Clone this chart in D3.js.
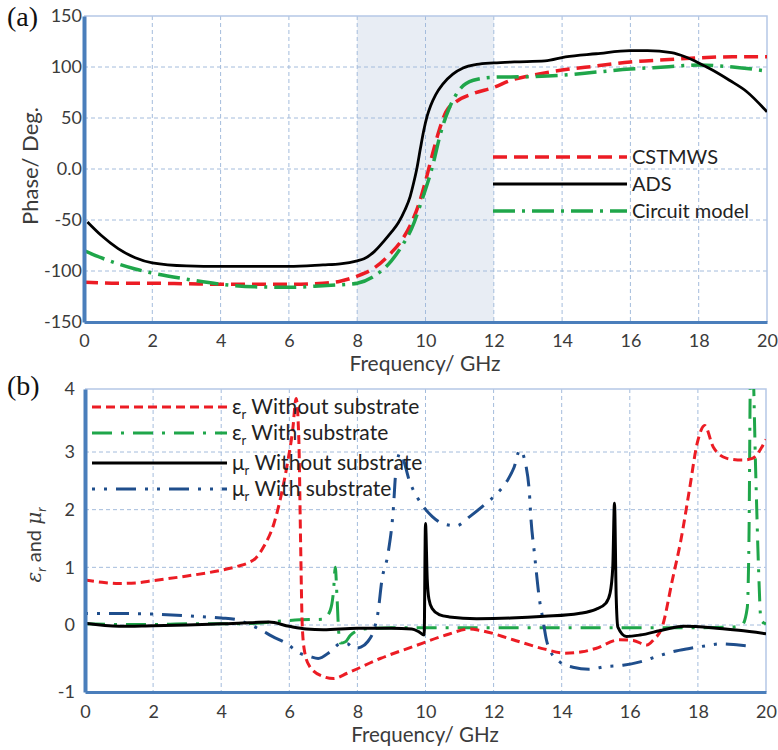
<!DOCTYPE html>
<html>
<head>
<meta charset="utf-8">
<script src="https://cdn.jsdelivr.net/npm/d3@7/dist/d3.min.js"></script>
<style>
  body { margin: 0; background: #fff; }
  svg { display: block; }
  text { font-family: Lato, "Open Sans", sans-serif; }
</style>
</head>
<body>
<svg id="chart" width="778" height="750"></svg>
<script>
// ---------- (a) transmission phase vs frequency ----------
const phaseXTicks = [0, 2, 4, 6, 8, 10, 12, 14, 16, 18, 20];
const phaseYTicks = [-150, -100, -50, 0, 50, 100, 150];
const bandGHz = [8, 12];

const cstFreq  = [0, 1, 2, 3, 4, 5, 6, 7, 7.5, 8, 8.5, 9, 9.3, 9.6, 9.8, 10, 10.2, 10.4, 10.6, 10.9, 11.4, 12, 12.5, 13, 14, 15, 16, 17, 18, 19, 20];
const cstPhase = [-111, -112, -112, -112.5, -113, -113, -113, -112, -110, -105, -97, -82, -70, -52, -35, -12, 14, 38, 56, 66, 74, 80, 87, 91, 97, 101, 105, 107, 109, 110, 110];

const adsFreq  = [0.1, 0.5, 1, 1.5, 2, 3, 4, 5, 6, 7, 7.5, 8, 8.2, 8.5, 8.8, 9.0, 9.2, 9.4, 9.55, 9.65, 9.75, 9.85, 9.95, 10.05, 10.15, 10.3, 10.5, 10.8, 11.1, 11.5, 12, 12.6, 13.5, 14.1, 15, 16, 16.5, 17.2, 17.6, 18, 18.4, 18.9, 19.4, 20];
const adsPhase = [-52, -65, -78, -87, -92, -95, -95.5, -95.5, -95.5, -94, -93, -90, -88, -81, -70, -62, -53, -40, -27, -14, 1, 20, 38, 52, 62, 73, 83, 93, 99, 102.5, 104, 105, 106, 110, 113, 116, 116, 114, 110, 104, 97, 87, 76, 56];

const circuitFreq  = [0, 0.5, 1, 1.5, 2, 3, 4, 5, 6, 7, 7.5, 8, 8.5, 9, 9.3, 9.6, 9.9, 10.2, 10.45, 10.7, 11, 11.4, 12, 13, 14, 15, 16, 17, 18, 19, 20];
const circuitPhase = [-80, -87, -93, -98, -102, -108, -113, -115.5, -116, -114.5, -113.5, -112, -105, -90, -76, -58, -30, 2, 36, 60, 78, 87, 90, 90.5, 92, 95, 98, 100, 102, 100, 96];

const phaseLegend = ["CSTMWS", "ADS", "Circuit model"];

// ---------- (b) retrieved permittivity / permeability ----------
const paramXTicks = [0, 2, 4, 6, 8, 10, 12, 14, 16, 18, 20];
const paramYTicks = [-1, 0, 1, 2, 3, 4];

const epsNoSubFreq = [0, 0.5, 1, 1.5, 2, 3, 4, 4.5, 4.8, 5, 5.25, 5.55, 5.75, 5.95, 6.1, 6.2, 6.28, 6.33, 6.38, 6.45, 6.6, 7, 7.3, 7.7, 8.67, 9.65, 10.6, 11.3, 11.6, 12.57, 13.5, 14.1, 14.6, 15, 15.7, 16.1, 16.5, 16.7, 16.95, 17.25, 17.5, 17.75, 17.98, 18.2, 18.45, 18.85, 19.3, 19.6, 20];
const epsNoSub     = [0.78, 0.74, 0.72, 0.73, 0.77, 0.85, 0.95, 1.02, 1.08, 1.15, 1.36, 1.76, 2.22, 2.82, 3.35, 3.85, 3.2, 1.5, 0, -0.4, -0.62, -0.77, -0.8, -0.72, -0.5, -0.32, -0.15, -0.06, -0.08, -0.22, -0.36, -0.42, -0.4, -0.35, -0.22, -0.23, -0.3, -0.22, -0.03, 0.78, 1.47, 2.34, 3.14, 3.42, 3.08, 2.89, 2.86, 2.89, 3.2];

const epsSubFreq = [0, 1, 2, 3, 4, 5, 5.8, 6.3, 7, 7.2, 7.3, 7.35, 7.4, 7.45, 7.5, 7.65, 7.8, 8.2, 9, 10, 11, 12, 13, 14, 15, 16, 17, 18, 19, 19.3, 19.45, 19.5, 19.55, 19.6, 19.7, 19.78, 19.85, 19.9, 20];
const epsSub     = [0.02, 0.01, 0.01, 0.02, 0.02, 0.03, 0.07, 0.09, 0.1, 0.25, 0.6, 1.0, 0.5, -0.1, -0.27, -0.25, -0.15, -0.06, -0.04, -0.04, -0.04, -0.04, -0.04, -0.04, -0.04, -0.04, -0.04, -0.04, -0.03, 0.0, 0.3, 1.5, 4.5, 4.5, 2.6, 1.0, 0.1, 0.05, 0.02];

const muNoSubFreq = [0, 1, 2, 3, 4, 4.5, 5.4, 6, 6.5, 7, 8, 9, 9.6, 9.8, 9.96, 10.0, 10.05, 10.1, 10.2, 10.4, 10.7, 11.5, 12.5, 13.5, 14.5, 15, 15.3, 15.42, 15.5, 15.55, 15.6, 15.65, 15.9, 16.3, 17, 17.6, 18.4, 19.2, 20];
const muNoSub     = [0.03, -0.02, -0.01, 0, 0.02, 0.03, 0.05, -0.02, -0.06, -0.07, -0.05, -0.05, -0.06, -0.1, -0.15, 1.76, 0.8, 0.45, 0.28, 0.18, 0.14, 0.11, 0.12, 0.15, 0.2, 0.27, 0.38, 0.55, 1.0, 2.11, 0.5, -0.03, -0.17, -0.15, -0.07, -0.02, -0.04, -0.08, -0.13];

const muSubFreq = [0, 1, 2, 3, 4, 4.4, 4.75, 5.15, 5.5, 5.9, 6.3, 6.6, 6.85, 7.2, 7.5, 7.7, 7.9, 8.1, 8.3, 8.5, 8.6, 8.72, 8.9, 9.06, 9.12, 9.25, 9.55, 9.94, 10.2, 10.5, 10.9, 11.3, 11.7, 12.1, 12.4, 12.6, 12.77, 12.96, 13.05, 13.1, 13.2, 13.35, 13.45, 13.55, 13.65, 13.94, 14.33, 14.8, 15.3, 15.8, 16.3, 16.8, 17.25, 17.75, 18.24, 18.7, 19.2, 19.65];
const muSub     = [0.2, 0.2, 0.19, 0.16, 0.12, 0.1, 0.03, -0.07, -0.17, -0.27, -0.42, -0.47, -0.5, -0.4, -0.28, -0.28, -0.35, -0.33, -0.25, -0.05, 0.2, 0.78, 1.24, 2.05, 2.6, 2.98, 2.46, 2.05, 1.88, 1.76, 1.72, 1.88, 2.07, 2.28, 2.5, 2.73, 3.03, 2.73, 2.3, 1.82, 1.24, 0.43, 0.09, -0.22, -0.37, -0.55, -0.63, -0.66, -0.62, -0.6, -0.55, -0.47, -0.4, -0.35, -0.31, -0.28, -0.3, -0.32];

// ---------- styling ----------
const AXIS = "#4a7ebb", BORDER = "#b5c8e6", GRID = "#a4bcdc", INK = "#3b3b3b";
const RED = "#ec1c24", GREEN = "#1fa64a", BLACK = "#000000", NAVY = "#1f4e8c";

const svg = d3.select("#chart");
const zip = (xs, ys) => xs.map((x, i) => [x, ys[i]]);

function panel(g, x, y, xTicks, yTicks, yFmt, opt) {
  const xl = x.range()[0], xr = x.range()[1];
  const yb = y(y.domain()[0]), yt = y(y.domain()[y.domain().length - 1]);

  if (opt.band) {
    g.append("rect")
      .attr("x", x(opt.band[0])).attr("y", yt)
      .attr("width", x(opt.band[1]) - x(opt.band[0])).attr("height", yb - yt)
      .attr("fill", "#e8edf4");
  }
  // dashed grid
  g.append("g").selectAll("line").data(xTicks.slice(1, -1)).join("line")
    .attr("x1", d => x(d)).attr("x2", d => x(d)).attr("y1", yt).attr("y2", yb)
    .attr("stroke", GRID).attr("stroke-width", 1).attr("stroke-dasharray", "4,3");
  g.append("g").selectAll("line").data(yTicks.slice(1, -1)).join("line")
    .attr("x1", xl).attr("x2", xr).attr("y1", d => y(d)).attr("y2", d => y(d))
    .attr("stroke", GRID).attr("stroke-width", 1).attr("stroke-dasharray", "4,3");
  // thin top / right frame
  g.append("path").attr("d", `M${xl},${yt}H${xr}V${yb}`)
    .attr("fill", "none").attr("stroke", BORDER).attr("stroke-width", 1.5);

  const clipId = opt.clip;
  g.append("clipPath").attr("id", clipId).append("rect")
    .attr("x", xl).attr("y", yt).attr("width", xr - xl).attr("height", yb - yt);

  const line = d3.line().x(d => x(d[0])).y(d => y(d[1])).curve(d3.curveMonotoneX);
  const curves = g.append("g").attr("clip-path", `url(#${clipId})`);
  opt.series.forEach(s => {
    curves.append("path").datum(s.data).attr("d", line)
      .attr("fill", "none").attr("stroke", s.color).attr("stroke-width", s.width)
      .attr("stroke-dasharray", s.dash || null).attr("stroke-linejoin", "round");
  });

  // axes
  const ax = g.append("g").attr("transform", `translate(0,${yb})`)
    .call(d3.axisBottom(x).tickValues(xTicks).tickSize(0).tickSizeOuter(0).tickPadding(opt.xPad));
  ax.select(".domain").attr("stroke", AXIS).attr("stroke-width", 3);
  ax.selectAll("text").attr("font-size", 18).attr("fill", INK).style("font-family", "Lato, sans-serif");

  const ay = g.append("g").attr("transform", `translate(${xl},0)`)
    .call(d3.axisLeft(y).tickValues(yTicks).tickFormat(yFmt).tickSize(0).tickSizeOuter(0).tickPadding(opt.yPad));
  ay.select(".domain").attr("stroke", AXIS).attr("stroke-width", 4);
  ay.selectAll("text").attr("font-size", 18).attr("fill", INK).style("font-family", "Lato, sans-serif");

  // legend
  opt.legend.forEach((e, i) => {
    const ly = opt.legendY[i];
    g.append("line").attr("x1", opt.legendX[0]).attr("x2", opt.legendX[1])
      .attr("y1", ly).attr("y2", ly)
      .attr("stroke", e.color).attr("stroke-width", e.width).attr("stroke-dasharray", e.dash || null);
    const t = g.append("text").attr("x", opt.legendX[1] + 5).attr("y", ly).attr("dy", "0.35em")
      .attr("font-size", opt.legendSize).attr("fill", "#222");
    if (e.sym) {
      t.append("tspan").text(e.sym);
      t.append("tspan").attr("dy", 5).attr("font-size", opt.legendSize * 0.62).text("r");
      t.append("tspan").attr("dy", -5).text(" " + e.label);
    } else {
      t.text(e.label);
    }
  });
}

// ---------- panel (a) ----------
const xA = d3.scaleLinear().domain([0, 20]).range([84, 767]);
const yA = d3.scaleLinear().domain([-150, 150]).range([322, 16]);
const gA = svg.append("g");
panel(gA, xA, yA, phaseXTicks, phaseYTicks, d => d === 0 ? "0.0" : String(d), {
  band: bandGHz, clip: "clipA", xPad: 12, yPad: 2,
  series: [
    { data: zip(cstFreq, cstPhase), color: RED, width: 3.5, dash: "14,7" },
    { data: zip(circuitFreq, circuitPhase), color: GREEN, width: 3.5, dash: "22,7,3,7" },
    { data: zip(adsFreq, adsPhase), color: BLACK, width: 2.8 }
  ],
  legend: [
    { label: phaseLegend[0], color: RED, width: 3.5, dash: "14,7" },
    { label: phaseLegend[1], color: BLACK, width: 2.8 },
    { label: phaseLegend[2], color: GREEN, width: 3.5, dash: "22,7,3,7" }
  ],
  legendX: [493, 627], legendY: [157, 184, 211], legendSize: 20
});
gA.append("text").attr("x", 425).attr("y", 371).attr("text-anchor", "middle")
  .attr("font-size", 21).attr("fill", INK).text("Frequency/ GHz");
gA.append("text").attr("transform", "translate(38,166) rotate(-90)").attr("text-anchor", "middle")
  .attr("font-size", 22).attr("fill", INK).text("Phase/ Deg.");
gA.append("text").attr("x", 7).attr("y", 26).attr("font-size", 28).attr("fill", "#111")
  .style("font-family", "'Liberation Serif', 'DejaVu Serif', serif").text("(a)");

// ---------- panel (b) ----------
const xB = d3.scaleLinear().domain([0, 20]).range([85, 766]);
const yB = d3.scaleLinear().domain([-1, 0, 3, 4]).range([692, 625, 452, 389]);
const gB = svg.append("g");
panel(gB, xB, yB, paramXTicks, paramYTicks, d => String(d), {
  clip: "clipB", xPad: 13, yPad: 10,
  series: [
    { data: zip(epsSubFreq, epsSub), color: GREEN, width: 3, dash: "20,9,3,9" },
    { data: zip(muSubFreq, muSub), color: NAVY, width: 3, dash: "3,9,3,9,20,9" },
    { data: zip(epsNoSubFreq, epsNoSub), color: RED, width: 3, dash: "9,5" },
    { data: zip(muNoSubFreq, muNoSub), color: BLACK, width: 3 }
  ],
  legend: [
    { sym: "ε", label: "Without substrate", color: RED, width: 3, dash: "9,5" },
    { sym: "ε", label: "With substrate", color: GREEN, width: 3, dash: "20,9,3,9" },
    { sym: "μ", label: "Without substrate", color: BLACK, width: 3 },
    { sym: "μ", label: "With substrate", color: NAVY, width: 3, dash: "3,9,3,9,20,9" }
  ],
  legendX: [92, 227], legendY: [407, 433, 463, 489], legendSize: 21
});
gB.append("text").attr("x", 425).attr("y", 742).attr("text-anchor", "middle")
  .attr("font-size", 20.5).attr("fill", INK).text("Frequency/ GHz");
const yt = gB.append("text").attr("transform", "translate(41,545) rotate(-90)").attr("text-anchor", "middle")
  .attr("font-size", 20).attr("fill", INK);
yt.append("tspan").attr("font-style", "italic").style("font-family", "'DejaVu Serif', serif").text("ε");
yt.append("tspan").attr("font-style", "italic").attr("font-size", 13).attr("dy", 5).text("r");
yt.append("tspan").attr("dy", -5).text(" and ");
yt.append("tspan").attr("font-style", "italic").style("font-family", "'DejaVu Serif', serif").text("μ");
yt.append("tspan").attr("font-style", "italic").attr("font-size", 13).attr("dy", 5).text("r");
gB.append("text").attr("x", 7).attr("y", 395).attr("font-size", 28).attr("fill", "#111")
  .style("font-family", "'Liberation Serif', 'DejaVu Serif', serif").text("(b)");
</script>
</body>
</html>
